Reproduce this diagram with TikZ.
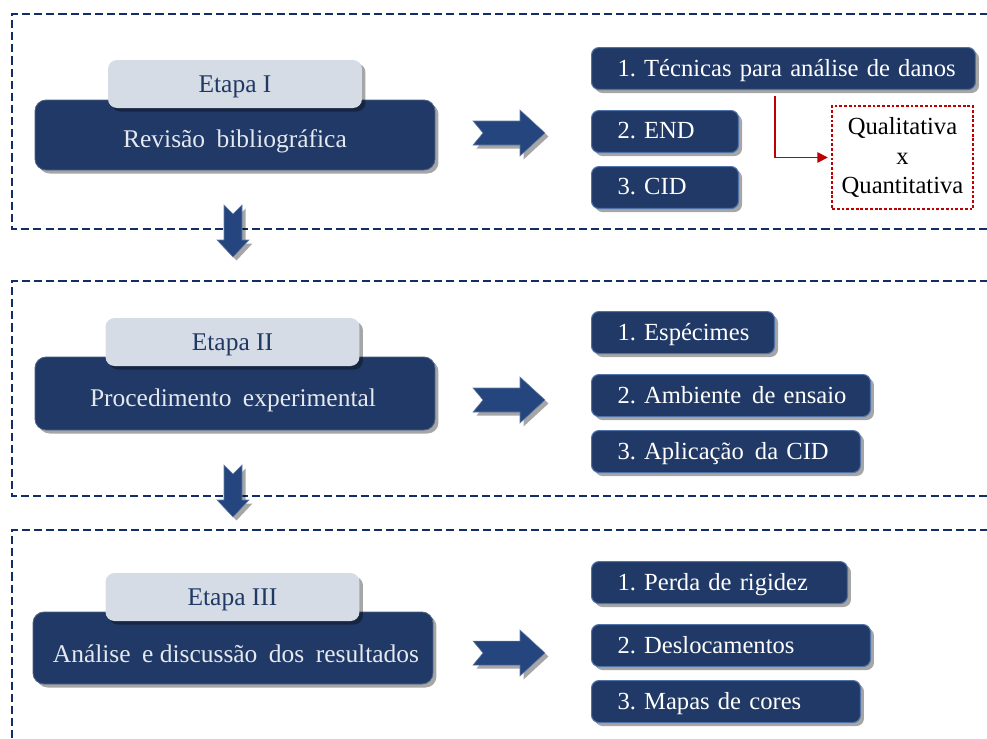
\documentclass[tikz,border=0pt]{standalone}
\usepackage{fontspec}
\setmainfont{Liberation Serif}
\usetikzlibrary{shadows,calc,arrows.meta}
\definecolor{boxnavy}{HTML}{213966}
\definecolor{boxedge}{HTML}{4F72A8}
\definecolor{lightlab}{HTML}{D6DCE5}
\definecolor{labtext}{HTML}{1F3864}
\definecolor{frameblue}{HTML}{112E66}
\definecolor{arrowblue}{HTML}{24457E}
\definecolor{redline}{HTML}{C00000}
\definecolor{maintext}{HTML}{E4E8EF}
\frenchspacing
\newcommand{\wsp}{\hspace{0.45em}}
\begin{document}
\begin{tikzpicture}[x=0.02cm,y=-0.02cm,
  txt/.style={font=\fontsize{14}{17}\selectfont},
  shad/.style={drop shadow={shadow xshift=0.07cm,shadow yshift=-0.07cm,opacity=0.35,fill=black}},
  mainbox/.style={shad,draw=boxnavy!80!white,line width=0.5pt,fill=boxnavy,rounded corners=0.22cm,minimum width=8cm},
  maintxt/.style={font=\fontsize{14.5}{17}\selectfont,text=maintext,inner sep=0pt},
  labbox/.style={txt,font=\fontsize{14.5}{17}\selectfont,shad,fill=lightlab,text=labtext,rounded corners=0.18cm,minimum width=5.08cm,minimum height=0.96cm,text depth=0pt,align=center},
  rbox/.style={txt,shad,draw=boxedge,line width=0.6pt,fill=boxnavy,text=white,rounded corners=0.15cm,anchor=north west,inner xsep=0.52cm,minimum height=0.84cm,text width=#1-1.04cm,text depth=1pt,align=left},
  frame/.style={draw=frameblue,line width=1.2pt,dash pattern=on 4.6pt off 2.3pt},
  redbox/.style={txt,draw=redline,line width=0.8pt,dash pattern=on 1.6pt off 1.1pt,minimum width=2.82cm,minimum height=2.06cm,align=center,text=black},
  bigarrow/.style={fill=arrowblue,draw=arrowblue!70!white,line width=0.3pt,shad},
  rarr/.pic={\path[bigarrow] (0,-12) -- (47,-12) -- (47,-23) -- (72,0) -- (47,23) -- (47,12) -- (0,12) -- (10,0) -- cycle;},
  darr/.pic={\path[bigarrow] (-9,0) -- (0,9) -- (9,0) -- (9,35) -- (16,35) -- (0,52) -- (-16,35) -- (-9,35) -- cycle;}
]
\useasboundingbox (0,0) rectangle (987,738);

% frames
\draw[frame] (1000,14) -| (12,229) -- (1000,229);
\draw[frame] (1000,281) -| (12,496) -- (1000,496);
\draw[frame] (1000,530) -| (12,760);

% stage I
\node[mainbox,minimum height=1.4cm] (m1) at (235,135) {};
\node[maintxt] (m1t) at (235,141) {Revisão\wsp bibliográfica};
\node[labbox] (l1) at (235,84) {Etapa I};
\pic at (473,133) {rarr};
\node[rbox=7.68cm] (t1) at (591,47) {\mbox{1. Técnicas para análise de danos}};
\node[rbox=2.94cm] (t2) at (591,110) {\mbox{2. END}};
\node[rbox=2.94cm] (t3) at (591,166) {\mbox{3. CID}};
\node[redbox] (qq) at (902.5,157.5) {Qualitativa\\x\\Quantitativa};
\coordinate (rs) at (775,96);
\draw[redline,line width=0.9pt,-{Triangle[length=6pt,width=6pt]},shorten >=2pt] (rs) |- (qq.west);

\pic at (233,205) {darr};

% stage II
\node[mainbox,minimum height=1.46cm] (m2) at (235,393.5) {};
\node[maintxt] (m2t) at (233,400) {Procedimento\wsp experimental};
\node[labbox] (l2) at (232.5,342) {Etapa II};
\pic at (473,400) {rarr};
\node[rbox=3.66cm] (s1) at (591,311) {\mbox{1. Espécimes}};
\node[rbox=5.58cm] (s2) at (591,374) {\mbox{2. Ambiente\wsp de ensaio}};
\node[rbox=5.38cm] (s3) at (591,430) {\mbox{3. Aplicação\wsp da CID}};

\pic at (233,465) {darr};

% stage III
\node[mainbox,minimum height=1.44cm] (m3) at (233,648) {};
\node[maintxt] (m3t) at (236,654) {Análise\wsp e discussão\wsp dos\wsp resultados};
\node[labbox] (l3) at (232.5,597) {Etapa III};
\pic at (473,653) {rarr};
\node[rbox=5.12cm] (u1) at (591,561) {\mbox{1. Perda de rigidez}};
\node[rbox=5.58cm] (u2) at (591,624) {\mbox{2. Deslocamentos}};
\node[rbox=5.38cm] (u3) at (591,680) {\mbox{3. Mapas de cores}};
\end{tikzpicture}
\end{document}
